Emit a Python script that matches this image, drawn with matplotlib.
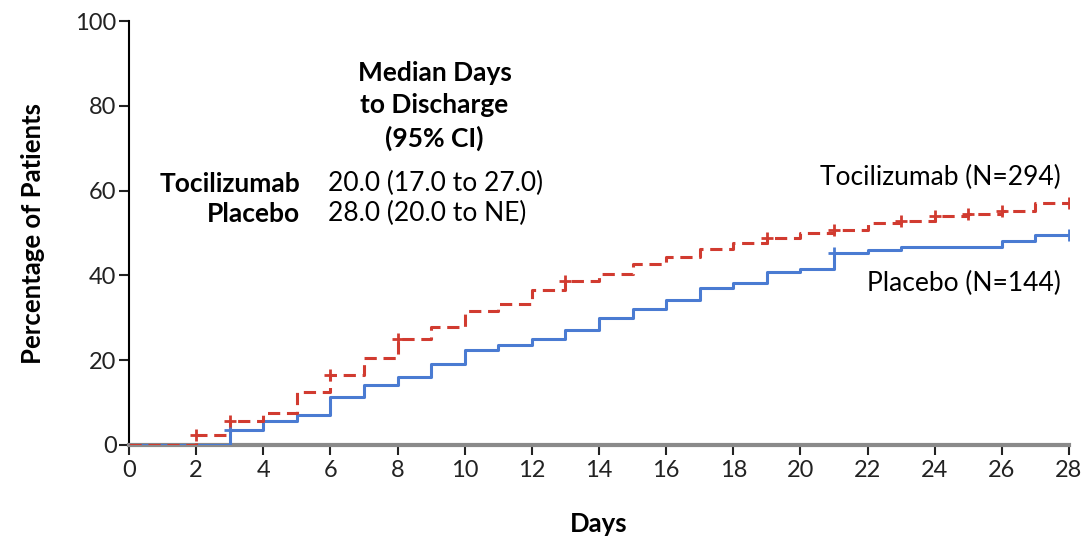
import matplotlib.pyplot as plt
import numpy as np

plt.rcParams['font.family'] = ['Lato', 'DejaVu Sans']

days = np.arange(0, 29)
# cumulative % discharged, value holding from each day onward
toci = [0, 0, 2.4, 5.6, 7.6, 12.6, 16.5, 20.5, 25.1, 27.9, 31.6, 33.3, 36.5, 38.6,
        40.4, 42.6, 44.3, 46.3, 47.6, 48.9, 50.1, 50.7, 52.4, 52.9, 54.1, 54.6,
        55.3, 57.0, 57.0]
placebo = [0, 0, 0, 3.6, 5.7, 7.1, 11.3, 14.1, 16.0, 19.2, 22.3, 23.6, 24.9, 27.1,
           29.9, 32.0, 34.2, 37.0, 38.1, 40.9, 41.6, 45.3, 46.1, 46.8, 46.8, 46.8,
           48.0, 49.5, 49.5]
toci_censor = [2, 3, 6, 8, 13, 19, 21, 23, 24, 25, 26, 28]
placebo_censor = [3, 21, 28]

red = '#d13b30'
blue = '#4a7bd2'

fig = plt.figure(figsize=(10.89, 5.39), dpi=100)
ax = fig.add_axes([0.1185, 0.1744, 0.8631, 0.7866])

ax.step(days, placebo, where='post', color=blue, lw=2.2, zorder=3)
ax.step(days, toci, where='post', color=red, lw=2.2, dashes=(4, 2.2), zorder=4)
ax.plot(placebo_censor, [placebo[d] for d in placebo_censor], ls='none',
        marker='+', ms=9, mew=2, color=blue, zorder=5)
ax.plot(toci_censor, [toci[d] for d in toci_censor], ls='none',
        marker='+', ms=9, mew=2, color=red, zorder=5)

ax.set_xlim(0, 28)
ax.set_ylim(0, 100)
ax.set_xticks(range(0, 29, 2))
ax.set_yticks(range(0, 101, 20))
for s in ['top', 'right']:
    ax.spines[s].set_visible(False)
ax.spines['left'].set_linewidth(1.5)
ax.spines['bottom'].set_linewidth(3)
ax.spines['bottom'].set_color('#8a8a8a')
ax.tick_params(axis='both', direction='out', length=7, width=1.5, labelsize=17,
               color='#222222', labelcolor='#222222')
ax.tick_params(axis='y', pad=2)
ax.tick_params(axis='x', pad=4)

ax.set_xlabel('Days', fontsize=18.5, fontweight='bold', labelpad=22)
ax.set_ylabel('Percentage of Patients', fontsize=18.5, fontweight='bold', labelpad=22)

ax.text(9.1, 80.0, 'Median Days\nto Discharge\n(95% CI)', ha='center', va='center',
        fontsize=19, fontweight='bold', linespacing=1.4)
ax.text(5.1, 61.6, 'Tocilizumab', ha='right', va='center', fontsize=19, fontweight='bold')
ax.text(5.1, 54.5, 'Placebo', ha='right', va='center', fontsize=19, fontweight='bold')
ax.text(5.93, 61.6, '20.0 (17.0 to 27.0)', ha='left', va='center', fontsize=19)
ax.text(5.93, 54.5, '28.0 (20.0 to NE)', ha='left', va='center', fontsize=19)

ax.text(27.75, 63.0, 'Tocilizumab (N=294)', ha='right', va='center', fontsize=19)
ax.text(27.75, 38.0, 'Placebo (N=144)', ha='right', va='center', fontsize=19)

fig.savefig('out.png', dpi=100)
